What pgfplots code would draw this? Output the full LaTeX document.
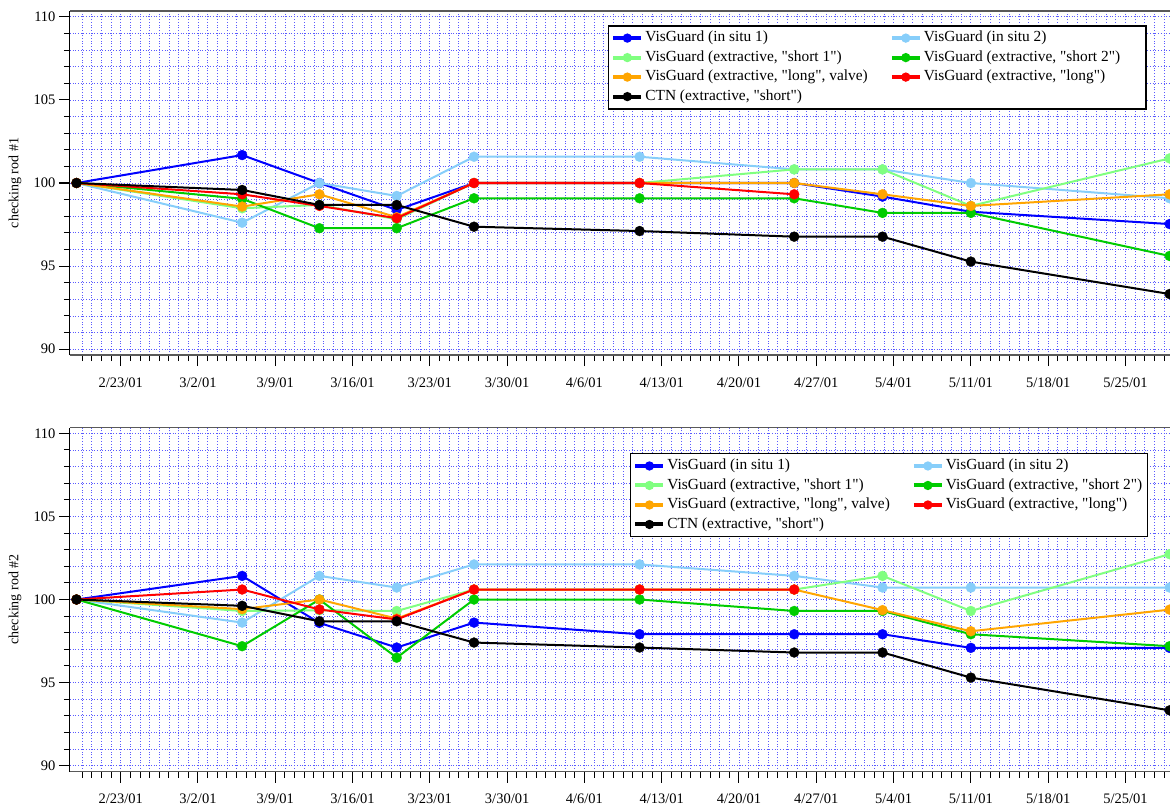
\documentclass[border=0pt]{standalone}
\usepackage{fontspec}
\setmainfont{Liberation Serif}[Ligatures=TeXOff]
\usepackage{pgfplots}
\pgfplotsset{compat=1.18}
\definecolor{cBlue}{RGB}{0,0,255}
\definecolor{cLBlue}{RGB}{135,206,250}
\definecolor{cLGreen}{RGB}{128,255,128}
\definecolor{cGreen}{RGB}{0,204,0}
\definecolor{cOrange}{RGB}{255,165,0}
\definecolor{cRed}{RGB}{255,0,0}
\definecolor{cGrid}{RGB}{90,90,255}
\pgfplotsset{
 mychart/.style={
  width=1100pt, height=344pt, scale only axis,
  xmin=-4.59, xmax=95.04, ymin=89.65, ymax=110.35,
  axis x line*=bottom, axis y line*=left,
  x axis line style={black!65, line width=1.8pt},
  y axis line style={black, line width=1pt},
  xtick={0,7,...,91},
  xticklabels={2/23/01,3/2/01,3/9/01,3/16/01,3/23/01,3/30/01,4/6/01,4/13/01,4/20/01,4/27/01,5/4/01,5/11/01,5/18/01,5/25/01},
  minor xtick={-3.5,-2.625,...,95},
  ytick={90,95,...,110}, minor ytick={91,92,93,94,96,97,98,99,101,102,103,104,106,107,108,109},
  tick align=outside,
  major tick length=11pt, minor tick length=6pt,
  every tick/.style={black, line width=1pt},
  grid=both,
  major grid style={cGrid, line width=0.8pt, dash pattern=on 1pt off 1.7pt},
  minor grid style={cGrid, line width=0.8pt, dash pattern=on 1pt off 1.7pt},
  ticklabel style={font=\fontsize{14.5}{14.5}\selectfont},
  /pgf/number format/assume math mode=true,
  xticklabel style={yshift=-8pt},
  ylabel style={font=\fontsize{14}{14}\selectfont, at={(axis description cs:-0.05,0.5)}, anchor=center},
  every axis plot/.append style={line width=2pt, mark=*, mark size=5pt, mark options={line width=0.3pt}},
  clip marker paths=true,
  legend columns=2,
  legend cell align=left,
  legend image code/.code={
    \draw[line width=4pt] (0pt,0pt) -- (28pt,0pt);
    \fill (14pt,0pt) circle (3.6pt);
  },
  legend style={
    draw=black, line width=1.5pt, fill=white, inner xsep=3pt, inner ysep=3pt,
    font=\fontsize{15.4}{15.4}\selectfont,
    nodes={inner sep=2pt, text height=11pt, text depth=3.5pt},
    row sep=1pt,
    /tikz/every even column/.append style={column sep=20pt},
  },
 }
}
\begin{document}
\begin{tikzpicture}
% ---------------- top chart ----------------
\begin{axis}[mychart, name=top, at={(70pt,-11pt)}, anchor=north west,
  ylabel={checking rod \#1},
  legend style={at={(axis description cs:0.979,0.959)}, anchor=north east}]
\addplot[color=cBlue] coordinates {(-4,100) (11,101.68) (18,100) (25,98.38) (32,100) (47,100) (61,100) (69,99.18) (77,98.27) (95,97.53)};
\addlegendentry{VisGuard (in situ 1)}
\addplot[color=cLBlue] coordinates {(-4,100) (11,97.61) (18,100) (25,99.22) (32,101.58) (47,101.58) (61,100.82) (69,100.82) (77,100.0) (95,99.08)};
\addlegendentry{VisGuard (in situ 2)}
\addplot[color=cLGreen] coordinates {(-4,100) (11,98.48) (18,98.68) (25,97.82) (32,100) (47,100) (61,100.82) (69,100.82) (77,98.62) (95,101.48)};
\addlegendentry{VisGuard (extractive, "short 1")}
\addplot[color=cGreen] coordinates {(-4,100) (11,99.05) (18,97.28) (25,97.28) (32,99.08) (47,99.08) (61,99.08) (69,98.2) (77,98.2) (95,95.61)};
\addlegendentry{VisGuard (extractive, "short 2")\hspace*{21pt}}
\addplot[color=cOrange] coordinates {(-4,100) (11,98.58) (18,99.32) (25,97.94) (32,100) (47,100) (61,100) (69,99.32) (77,98.62) (95,99.32)};
\addlegendentry{VisGuard (extractive, "long", valve)}
\addplot[color=cRed] coordinates {(-4,100) (11,99.32) (18,98.62) (25,97.88) (32,100) (47,100) (61,99.32)};
\addlegendentry{VisGuard (extractive, "long")}
\addplot[color=black] coordinates {(-4,100) (11,99.58) (18,98.68) (25,98.68) (32,97.37) (47,97.11) (61,96.77) (69,96.77) (77,95.27) (95,93.32)};
\addlegendentry{CTN (extractive, "short")}
\end{axis}
\draw[black!65, line width=1.6pt] (top.north west) -- (top.north east);
% ---------------- bottom chart ----------------
\begin{axis}[mychart, name=bot, at={(70pt,-427.5pt)}, anchor=north west,
  ylabel={checking rod \#2},
  legend style={at={(axis description cs:0.98,0.926)}, anchor=north east}]
\addplot[color=cBlue] coordinates {(-4,100) (11,101.42) (18,98.59) (25,97.11) (32,98.61) (47,97.91) (61,97.91) (69,97.91) (77,97.09) (95,97.09)};
\addlegendentry{VisGuard (in situ 1)}
\addplot[color=cLBlue] coordinates {(-4,100) (11,98.61) (18,101.42) (25,100.72) (32,102.11) (47,102.11) (61,101.42) (69,100.72) (77,100.72) (95,100.72)};
\addlegendentry{VisGuard (in situ 2)}
\addplot[color=cLGreen] coordinates {(-4,100) (11,99.31) (18,99.35) (25,99.31) (32,100.6) (47,100.6) (61,100.6) (69,101.42) (77,99.31) (95,102.73)};
\addlegendentry{VisGuard (extractive, "short 1")}
\addplot[color=cGreen] coordinates {(-4,100) (11,97.19) (18,100) (25,96.5) (32,100) (47,100) (61,99.31) (69,99.31) (77,97.91) (95,97.19)};
\addlegendentry{VisGuard (extractive, "short 2")}
\addplot[color=cOrange] coordinates {(-4,100) (11,99.42) (18,100) (25,98.85) (32,100.6) (47,100.6) (61,100.6) (69,99.36) (77,98.09) (95,99.39)};
\addlegendentry{VisGuard (extractive, "long", valve)}
\addplot[color=cRed] coordinates {(-4,100) (11,100.6) (18,99.4) (25,98.8) (32,100.6) (47,100.6) (61,100.6)};
\addlegendentry{VisGuard (extractive, "long")}
\addplot[color=black] coordinates {(-4,100) (11,99.62) (18,98.69) (25,98.69) (32,97.41) (47,97.11) (61,96.81) (69,96.81) (77,95.3) (95,93.33)};
\addlegendentry{CTN (extractive, "short")}
\end{axis}
\draw[black!65, line width=1.6pt] (bot.north west) -- (bot.north east);
\pgfresetboundingbox
\useasboundingbox (0pt,0pt) rectangle (1170pt,-805pt);
\end{tikzpicture}
\end{document}
